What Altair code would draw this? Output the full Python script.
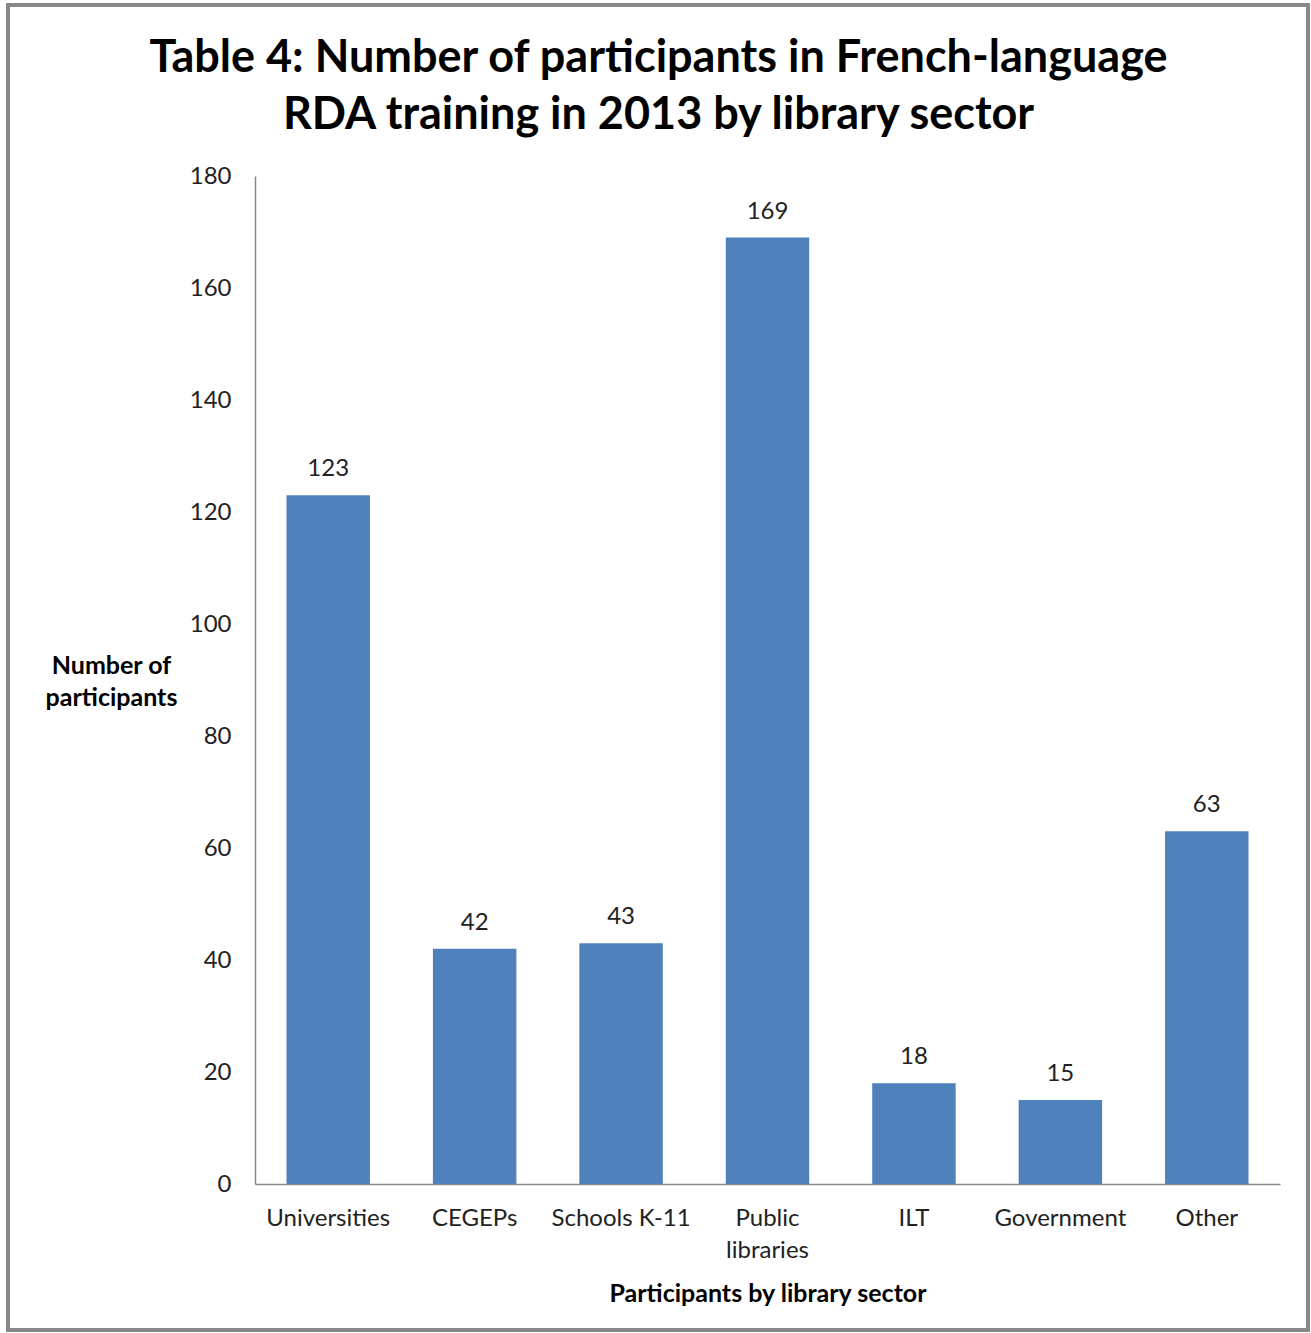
import altair as alt
import pandas as pd

sectors = ["Universities", "CEGEPs", "Schools K-11", "Public libraries", "ILT", "Government", "Other"]
participants = [123, 42, 43, 169, 18, 15, 63]

df = pd.DataFrame({"sector": sectors, "n": participants})

FONT = "Lato"
W, H = 1025, 1008

x = alt.X("sector:N", sort=sectors,
          scale=alt.Scale(paddingInner=0.43, paddingOuter=0.215),
          axis=alt.Axis(title="Participants by library sector", labelAngle=0,
                        labelFontSize=24, labelFont=FONT, labelColor="#222",
                        labelPadding=22, ticks=False, labelLineHeight=32,
                        labelExpr="datum.value == 'Public libraries' ? ['Public', 'libraries'] : datum.value",
                        titleFontSize=25, titleFont=FONT, titleFontWeight="bold",
                        titlePadding=19, domainColor="#888", domainWidth=1.5))
y = alt.Y("n:Q", scale=alt.Scale(domain=[0, 180], nice=False),
          axis=alt.Axis(title=["Number of", "participants"], values=list(range(0, 181, 20)),
                        grid=False, ticks=False, labelFontSize=24, labelFont=FONT,
                        labelColor="#222", labelPadding=24,
                        titleAngle=0, titleX=-144, titleY=489, titleAlign="center",
                        titleBaseline="middle", titleFontSize=25, titleFont=FONT,
                        titleFontWeight="bold", titleLineHeight=32,
                        domainColor="#888", domainWidth=1.5))

bars = alt.Chart(df).mark_bar(color="#4F81BD").encode(x=x, y=y)
labels = alt.Chart(df).mark_text(fontSize=24, font=FONT, color="#222", baseline="bottom", dy=-14).encode(
    x=alt.X("sector:N", sort=sectors), y="n:Q", text="n:Q")
border = alt.Chart(df).mark_rect(fill=None, stroke="#888", strokeWidth=3).encode(
    x=alt.value(-247), x2=alt.value(1053), y=alt.value(-171), y2=alt.value(1154))

chart = alt.layer(border, bars, labels).properties(
    width=W, height=H,
    background="white",
    title=alt.Title(["Table 4: Number of participants in French-language", "RDA training in 2013 by library sector"],
                    fontSize=45, font=FONT, fontWeight="bold", color="#000", anchor="middle",
                    dx=-109, offset=-134, lineHeight=57),
    autosize=alt.AutoSizeParams(type="none"),
    padding={"left": 255, "top": 176, "right": 31, "bottom": 149},
).configure_view(stroke="transparent", strokeWidth=0)

chart.save("out.html", embed_options={"renderer": "svg", "actions": False})
